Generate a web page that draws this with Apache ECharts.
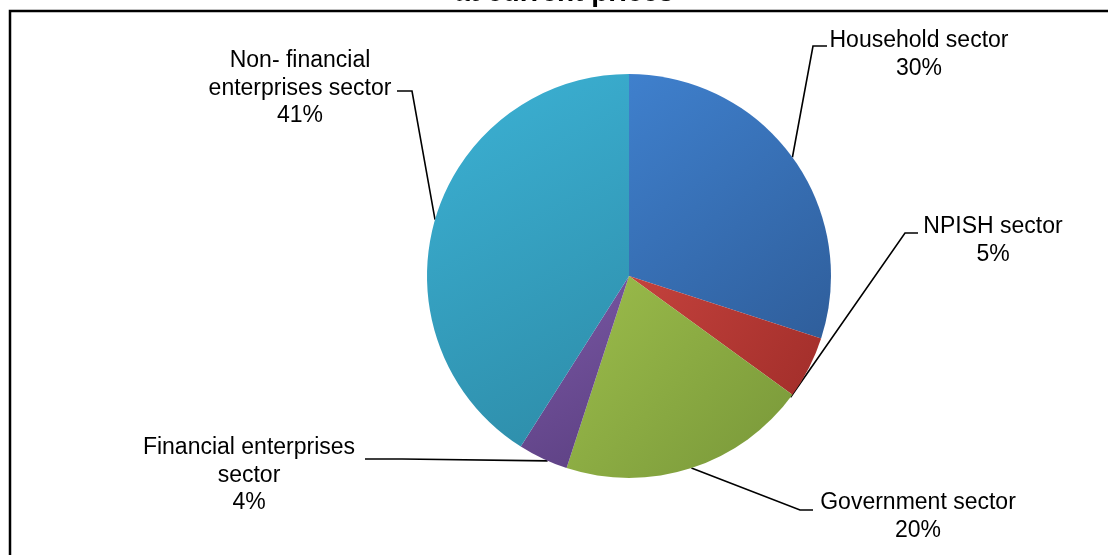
<!DOCTYPE html>
<html>
<head>
<meta charset="utf-8">
<script src="https://cdn.jsdelivr.net/npm/echarts@6/dist/echarts.min.js"></script>
<style>
  html, body { margin: 0; padding: 0; background: #ffffff; overflow: hidden; }
  #chart { width: 1108px; height: 555px; }
</style>
</head>
<body>
<div id="chart"></div>
<script>
// ---- data ----
const titleText = 'at current prices';
const categories = [
  'Household sector',
  'NPISH sector',
  'Government sector',
  'Financial enterprises\nsector',
  'Non- financial\nenterprises sector'
];
const values = [30, 5, 20, 4, 41];

// ---- styles ----
const sliceColors = [
  ['#3f80cd', '#2f5e9b'],
  ['#c4423d', '#a22e2a'],
  ['#9cbd4b', '#789739'],
  ['#7a58a5', '#5c4082'],
  ['#3cb2d5', '#2d8ba7']
];
// label placement: text center x, text top y, elbow point, line end point
const labelPos = [
  { x: 919, y: 27,  elbow: [813, 46],  end: [827, 46] },
  { x: 993, y: 213, elbow: [905, 233], end: [918, 233] },
  { x: 918, y: 489, elbow: [800, 510], end: [813, 510] },
  { x: 249, y: 434, elbow: [402, 459], end: [365, 459] },
  { x: 300, y: 47,  elbow: [412, 91],  end: [397, 91] }
];
// where along each slice the leader line touches the rim (0 = start, 1 = end)
const anchorFrac = [0.5, 1.05, 0.5, 0.4, 0.5];

const center = [629, 276];
const radius = 202;
const startAngle = 90;

const total = values.reduce((a, b) => a + b, 0);
const cum = [];
let acc = 0;
values.forEach(v => { cum.push(acc); acc += v; });

function anchorPoint(i) {
  const a0 = startAngle - cum[i] / total * 360;
  const span = values[i] / total * 360;
  const ang = (a0 - anchorFrac[i] * span) * Math.PI / 180;
  return [center[0] + radius * Math.cos(ang), center[1] - radius * Math.sin(ang)];
}

const chart = echarts.init(document.getElementById('chart'), null, { renderer: 'canvas' });

const data = categories.map((name, i) => ({
  name: name,
  value: values[i],
  itemStyle: {
    color: new echarts.graphic.LinearGradient(0, 0, 1, 1, [
      { offset: 0, color: sliceColors[i][0] },
      { offset: 1, color: sliceColors[i][1] }
    ])
  }
}));

chart.setOption({
  animation: false,
  backgroundColor: '#ffffff',
  graphic: [
    {
      type: 'polyline',
      shape: { points: [[10, 800], [10, 11], [1400, 11]] },
      style: { fill: null, stroke: '#000000', lineWidth: 2.5 },
      z: 0
    },
    {
      type: 'text',
      style: {
        text: titleText,
        x: 564, y: -7,
        align: 'center',
        verticalAlign: 'middle',
        font: 'bold 28px "Liberation Sans", Arial, sans-serif',
        fill: '#000000'
      }
    }
  ],
  series: [{
    type: 'pie',
    center: center,
    radius: radius,
    startAngle: startAngle,
    clockwise: true,
    avoidLabelOverlap: false,
    data: data,
    itemStyle: { borderWidth: 0 },
    label: {
      show: true,
      position: 'outside',
      formatter: p => p.name + '\n' + Math.round(p.percent) + '%',
      fontFamily: '"Liberation Sans", Arial, sans-serif',
      fontSize: 23,
      lineHeight: 27.5,
      color: '#000000',
      align: 'center'
    },
    labelLine: {
      show: true,
      smooth: false,
      lineStyle: { color: '#000000', width: 1.6 }
    },
    labelLayout: function (params) {
      const i = params.dataIndex;
      const lp = labelPos[i];
      return {
        x: lp.x,
        y: lp.y,
        align: 'center',
        verticalAlign: 'top',
        labelLinePoints: [anchorPoint(i), lp.elbow, lp.end]
      };
    },
    emphasis: { disabled: true }
  }]
});
</script>
</body>
</html>
